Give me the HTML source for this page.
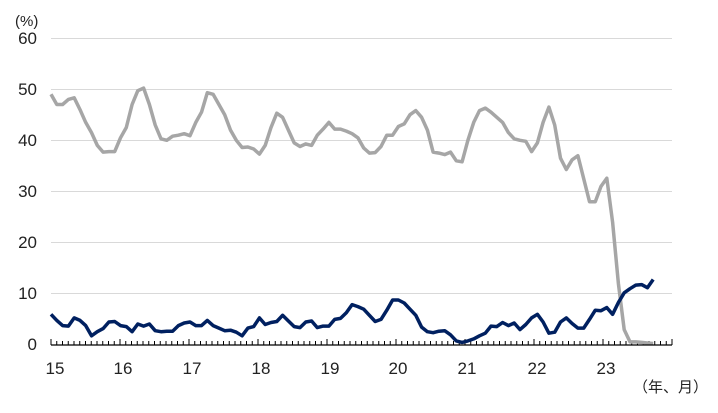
<!DOCTYPE html>
<html><head><meta charset="utf-8"><style>
body{margin:0;background:#fff;}
svg text{font-family:"Liberation Sans","Noto Sans CJK JP",sans-serif;fill:#222;}
</style></head><body>
<svg width="718" height="408" viewBox="0 0 718 408" xmlns="http://www.w3.org/2000/svg">
<g stroke="#d9d9d9" stroke-width="1">
<line x1="51" x2="672" y1="38.5" y2="38.5"/>
<line x1="51" x2="672" y1="89.5" y2="89.5"/>
<line x1="51" x2="672" y1="140.5" y2="140.5"/>
<line x1="51" x2="672" y1="191.5" y2="191.5"/>
<line x1="51" x2="672" y1="242.5" y2="242.5"/>
<line x1="51" x2="672" y1="293.5" y2="293.5"/>
</g>
<g font-size="17" text-anchor="end">
<text x="37" y="44">60</text><text x="37" y="95">50</text><text x="37" y="146">40</text>
<text x="37" y="197">30</text><text x="37" y="248">20</text><text x="37" y="299">10</text><text x="37" y="350">0</text>
</g>
<text x="15" y="26" font-size="15">(%)</text>
<g font-size="17" text-anchor="middle">
<text x="55" y="374">15</text><text x="123" y="374">16</text><text x="192" y="374">17</text>
<text x="261" y="374">18</text><text x="330" y="374">19</text><text x="398" y="374">20</text>
<text x="467" y="374">21</text><text x="537" y="374">22</text><text x="606" y="374">23</text>
</g>
<text x="633" y="392" font-size="15">（年、月）</text>
<g id="ax"></g>
<polyline id="g" fill="none" stroke="#a6a6a6" stroke-width="3.5" stroke-linejoin="round"/>
<polyline id="n" fill="none" stroke="#002060" stroke-width="3.5" stroke-linejoin="round"/>
<line x1="51" x2="672" y1="345" y2="345" stroke="#000" stroke-width="1.2"/>
</svg>
<script>
var gray=[49,47,47,48,48.3,46,43.5,41.5,39,37.7,37.8,37.8,
40.5,42.5,47,49.7,50.2,47,43,40.3,40,40.8,41,41.3,
40.9,43.5,45.5,49.3,49,47,45,42,40,38.6,38.7,38.3,
37.3,39,42.5,45.3,44.5,42,39.5,38.8,39.3,39,41,42.2,
43.5,42.2,42.2,41.8,41.3,40.5,38.5,37.5,37.6,38.8,41,41,
42.7,43.2,45,45.8,44.5,42,37.7,37.5,37.2,37.7,36,35.8,
40,43.5,45.8,46.3,45.5,44.5,43.5,41.5,40.3,40,39.8,37.8,
39.5,43.5,46.5,43,36.5,34.3,36.2,37,32.5,28,28,31,
32.6,24,12,3,0.6,0.6,0.5,0.4,0.3];
var navy=[6,4.8,3.8,3.7,5.3,4.8,3.8,1.8,2.6,3.2,4.5,4.6,
3.8,3.6,2.6,4.1,3.7,4.1,2.8,2.6,2.7,2.7,3.8,4.3,
4.5,3.8,3.8,4.8,3.8,3.3,2.8,2.9,2.5,1.8,3.3,3.6,
5.3,4,4.4,4.6,5.8,4.7,3.6,3.4,4.5,4.7,3.4,3.7,
3.7,5,5.2,6.3,7.9,7.5,7,5.8,4.6,5,6.8,8.8,
8.8,8.2,7,5.8,3.5,2.6,2.4,2.7,2.8,2,0.8,0.5,
0.8,1.2,1.8,2.3,3.7,3.6,4.4,3.8,4.3,3,4,5.3,
6,4.5,2.3,2.5,4.5,5.3,4.2,3.3,3.3,5,6.8,6.7,
7.3,6,8.3,10.2,11,11.7,11.8,11.2,12.8];
function pts(a){return a.map(function(v,i){return (51+5.79*i).toFixed(1)+","+(345-v*5.117).toFixed(1)}).join(" ")}
document.getElementById("g").setAttribute("points",pts(gray));
document.getElementById("n").setAttribute("points",pts(navy));
var ax=document.getElementById("ax"),s="";
for(var i=0;i<=108;i++){var x=51+5.75*i;s+='<line x1="'+x+'" x2="'+x+'" y1="'+(i%12==0?339:341)+'" y2="345" stroke="#000" stroke-width="1"/>';}
ax.innerHTML=s;
</script>
</body></html>
